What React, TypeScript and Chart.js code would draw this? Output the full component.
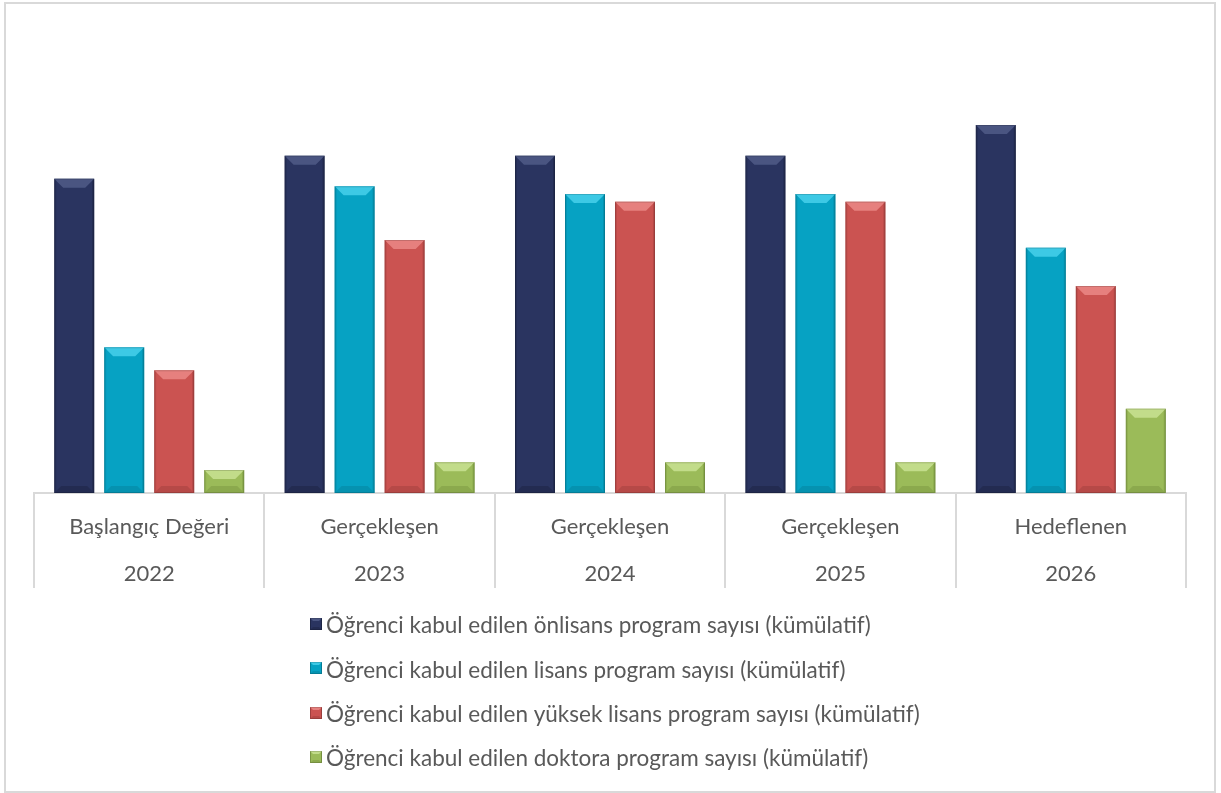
import React, { useEffect, useRef } from 'react';
import { Chart, registerables } from 'chart.js';

Chart.register(...registerables);

const periodLabels = ['Başlangıç Değeri', 'Gerçekleşen', 'Gerçekleşen', 'Gerçekleşen', 'Hedeflenen'];
const yearLabels = ['2022', '2023', '2024', '2025', '2026'];

const seriesNames = [
  'Öğrenci kabul edilen önlisans program sayısı (kümülatif)',
  'Öğrenci kabul edilen lisans program sayısı (kümülatif)',
  'Öğrenci kabul edilen yüksek lisans program sayısı (kümülatif)',
  'Öğrenci kabul edilen doktora program sayısı (kümülatif)',
];

const onlisans = [41, 44, 44, 44, 48];
const lisans = [19, 40, 39, 39, 32];
const yuksekLisans = [16, 33, 38, 38, 27];
const doktora = [3, 4, 4, 4, 11];

const baseColors = ['#2a3460', '#06a2c3', '#cb5351', '#9bbb59'];
const lightColors = ['#4e5985', '#44cde9', '#e98583', '#c6e08f'];
const darkColors = ['#1a2140', '#047f99', '#9e3d3b', '#77953d'];

const FONT = 'Lato, "Liberation Sans", sans-serif';
const TEXT = '#595959';
const LINE = '#d9d9d9';

function poly(ctx: CanvasRenderingContext2D, pts: number[][], color: string, alpha = 1) {
  ctx.globalAlpha = alpha;
  ctx.fillStyle = color;
  ctx.beginPath();
  ctx.moveTo(pts[0][0], pts[0][1]);
  for (let i = 1; i < pts.length; i++) ctx.lineTo(pts[i][0], pts[i][1]);
  ctx.closePath();
  ctx.fill();
  ctx.globalAlpha = 1;
}

function bevelBox(
  ctx: CanvasRenderingContext2D,
  l: number,
  t: number,
  r: number,
  b: number,
  i: number,
  bv: number,
  bvBottom: number,
  side: number
) {
  // top face
  poly(ctx, [[l, t], [r, t], [r - bv, t + bv], [l + bv, t + bv]], lightColors[i], 0.9);
  // bottom face
  poly(ctx, [[l, b], [r, b], [r - bvBottom, b - bvBottom], [l + bvBottom, b - bvBottom]], darkColors[i], 0.45);
  // side strips
  poly(ctx, [[l, t], [l + side, t + side], [l + side, b - side], [l, b]], darkColors[i], 0.3);
  poly(ctx, [[r, t], [r - side, t + side], [r - side, b - side], [r, b]], darkColors[i], 0.5);
  ctx.strokeStyle = 'rgba(0,0,0,0.15)';
  ctx.lineWidth = 1;
  ctx.strokeRect(l + 0.5, t + 0.5, r - l - 1, b - t - 1);
}

const bevelPlugin = {
  id: 'bevel',
  afterDatasetsDraw(chart: any) {
    const ctx: CanvasRenderingContext2D = chart.ctx;
    ctx.save();
    chart.data.datasets.forEach((_ds: any, di: number) => {
      const meta = chart.getDatasetMeta(di);
      meta.data.forEach((bar: any) => {
        const p = bar.getProps(['x', 'y', 'base', 'width'], true);
        const l = p.x - p.width / 2;
        const r = p.x + p.width / 2;
        const t = Math.min(p.y, p.base);
        const b = Math.max(p.y, p.base);
        const h = b - t;
        const bv = Math.min(9, h / 2.4);
        const bvb = Math.min(7, h / 2.6);
        bevelBox(ctx, l, t, r, b, di, bv, bvb, 2);
      });
    });
    ctx.restore();
  },
};

const legendPlugin = {
  id: 'customLegend',
  afterDraw(chart: any) {
    const ctx: CanvasRenderingContext2D = chart.ctx;
    const area = chart.chartArea;
    ctx.save();
    ctx.font = `22.5px ${FONT}`;
    ctx.textBaseline = 'middle';
    ctx.textAlign = 'left';
    const names = chart.data.datasets.map((d: any) => d.label as string);
    const widths = names.map((n: string) => ctx.measureText(n).width);
    const box = 12;
    const gap = 4;
    const blockW = box + gap + Math.max(...widths);
    const x0 = Math.round((area.left + area.right) / 2 + 5 - blockW / 2);
    const y0 = area.bottom + 133;
    const step = 44.3;
    names.forEach((n: string, i: number) => {
      const cy = y0 + i * step;
      const bt = Math.round(cy - 2 - box / 2);
      ctx.fillStyle = baseColors[i];
      ctx.fillRect(x0, bt, box, box);
      bevelBox(ctx, x0, bt, x0 + box, bt + box, i, 3, 3, 1);
      ctx.fillStyle = TEXT;
      ctx.fillText(n, x0 + box + gap, cy);
    });
    ctx.restore();
  },
};

export default function App() {
  const ref = useRef<HTMLCanvasElement | null>(null);

  useEffect(() => {
    if (!ref.current) return;
    const values = [onlisans, lisans, yuksekLisans, doktora];
    const chart = new Chart(ref.current, {
      type: 'bar',
      data: {
        labels: periodLabels.map((p, i) => [p, yearLabels[i]]),
        datasets: values.map((v, i) => ({
          label: seriesNames[i],
          data: v,
          backgroundColor: baseColors[i],
          borderWidth: 0,
          barPercentage: 0.8,
          categoryPercentage: 0.868,
        })),
      },
      options: {
        animation: false,
        responsive: true,
        maintainAspectRatio: false,
        layout: { padding: { left: 34, right: 35, top: 33, bottom: 200 } },
        plugins: {
          legend: { display: false },
          tooltip: { enabled: false },
        },
        scales: {
          x: {
            offset: true,
            grid: {
              offset: true,
              drawOnChartArea: false,
              drawTicks: true,
              tickLength: 95,
              color: LINE,
              lineWidth: 2,
            },
            border: { display: true, color: LINE, width: 2 },
            ticks: {
              color: TEXT,
              padding: -84.5,
              autoSkip: false,
              maxRotation: 0,
              font: { family: FONT, size: 22, lineHeight: 47 / 22 },
            },
            afterFit: (scale: any) => {
              scale.height = 100;
            },
          },
          y: {
            display: false,
            min: 0,
            max: 60,
          },
        },
      },
      plugins: [bevelPlugin, legendPlugin],
    });
    return () => chart.destroy();
  }, []);

  return (
    <>
      <div style={{ position: 'fixed', left: 0, top: 0, width: 1221, height: 793, background: '#fff' }}>
        <canvas ref={ref} />
      </div>
      <div
        style={{
          position: 'fixed',
          left: 4,
          top: 2,
          width: 1212,
          height: 791,
          border: `2px solid ${LINE}`,
          boxSizing: 'border-box',
          pointerEvents: 'none',
        }}
      />
    </>
  );
}
